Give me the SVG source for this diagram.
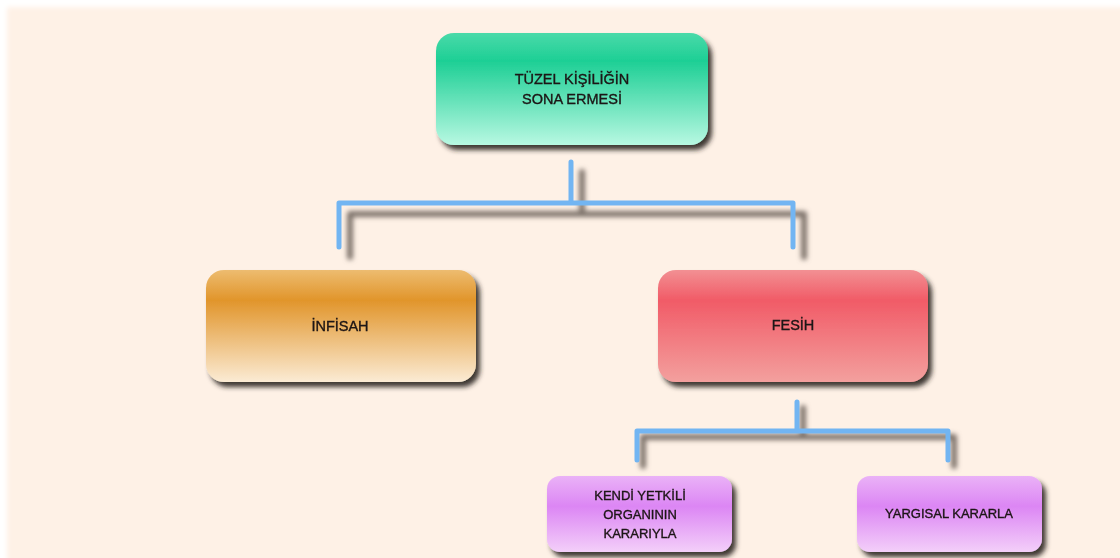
<svg xmlns="http://www.w3.org/2000/svg" width="1120" height="558" viewBox="0 0 1120 558">
<defs>
<linearGradient id="gGreen" x1="0" y1="0" x2="0" y2="1">
<stop offset="0" stop-color="#4ADAA9"/><stop offset="0.25" stop-color="#1DCF95"/><stop offset="1" stop-color="#B8F8E2"/>
</linearGradient>
<linearGradient id="gOrange" x1="0" y1="0" x2="0" y2="1">
<stop offset="0" stop-color="#EDBC70"/><stop offset="0.27" stop-color="#E1952B"/><stop offset="1" stop-color="#FBEBD4"/>
</linearGradient>
<linearGradient id="gRed" x1="0" y1="0" x2="0" y2="1">
<stop offset="0" stop-color="#F29093"/><stop offset="0.27" stop-color="#F15B67"/><stop offset="1" stop-color="#F3A09E"/>
</linearGradient>
<linearGradient id="gPurple" x1="0" y1="0" x2="0" y2="1">
<stop offset="0" stop-color="#EAB2F7"/><stop offset="0.4" stop-color="#DC86F4"/><stop offset="1" stop-color="#F3CFF9"/>
</linearGradient>
<filter id="boxShadow" x="-10%" y="-10%" width="125%" height="135%">
<feGaussianBlur in="SourceAlpha" stdDeviation="2.5"/>
<feOffset dx="4" dy="5" result="b"/>
<feFlood flood-color="#2a2420" flood-opacity="0.9"/>
<feComposite in2="b" operator="in"/>
<feMerge><feMergeNode/><feMergeNode in="SourceGraphic"/></feMerge>
</filter>
<filter id="lineBlur" x="-20%" y="-50%" width="140%" height="200%">
<feGaussianBlur stdDeviation="2.5"/>
</filter>
<filter id="bgBlur" x="-5%" y="-5%" width="110%" height="110%">
<feGaussianBlur stdDeviation="2.5"/>
</filter>
</defs>
<style>
.lbl{font-family:"Liberation Sans",Arial,sans-serif;font-size:14.5px;fill:#1c1414;stroke:#1c1414;stroke-width:0.35;text-anchor:middle}
.sm{font-size:13px}
.conn{fill:none;stroke:#72B5F2;stroke-width:5;stroke-linecap:round;stroke-linejoin:round}
.shd{fill:none;stroke:#7d726a;stroke-width:6;stroke-linecap:round;stroke-linejoin:round;filter:url(#lineBlur)}
</style>
<rect width="1120" height="558" fill="#ffffff"/>
<rect x="7" y="7" width="1125" height="565" fill="#FEF1E6" filter="url(#bgBlur)"/>

<g id="connectors">
<path class="shd" d="M582 172 V214 M350 257 V214 H804 V257"/>
<path class="conn" d="M571 162 V203 M339 247 V203 H793 V247"/>
<path class="shd" d="M803 408 V437 M643 466 V437 H954 V466"/>
<path class="conn" d="M797 402 V431 M637 460 V431 H948 V460"/>
</g>

<g id="node-top" filter="url(#boxShadow)">
<rect x="436" y="33" width="272" height="112" rx="18" fill="url(#gGreen)"/>
<text class="lbl" x="572" y="84">TÜZEL KİŞİLİĞİN</text>
<text class="lbl" x="572" y="104">SONA ERMESİ</text>
</g>

<g id="node-infisah" filter="url(#boxShadow)">
<rect x="206" y="270" width="270" height="112" rx="18" fill="url(#gOrange)"/>
<text class="lbl" x="340" y="331">İNFİSAH</text>
</g>

<g id="node-fesih" filter="url(#boxShadow)">
<rect x="658" y="270" width="270" height="112" rx="18" fill="url(#gRed)"/>
<text class="lbl" x="793" y="330">FESİH</text>
</g>

<g id="node-kendi" filter="url(#boxShadow)">
<rect x="547" y="476" width="185" height="76" rx="13" fill="url(#gPurple)"/>
<text class="lbl sm" x="640" y="500">KENDİ YETKİLİ</text>
<text class="lbl sm" x="640" y="519">ORGANININ</text>
<text class="lbl sm" x="640" y="538">KARARIYLA</text>
</g>

<g id="node-yargisal" filter="url(#boxShadow)">
<rect x="857" y="476" width="185" height="76" rx="13" fill="url(#gPurple)"/>
<text class="lbl sm" x="949" y="518">YARGISAL KARARLA</text>
</g>
</svg>
